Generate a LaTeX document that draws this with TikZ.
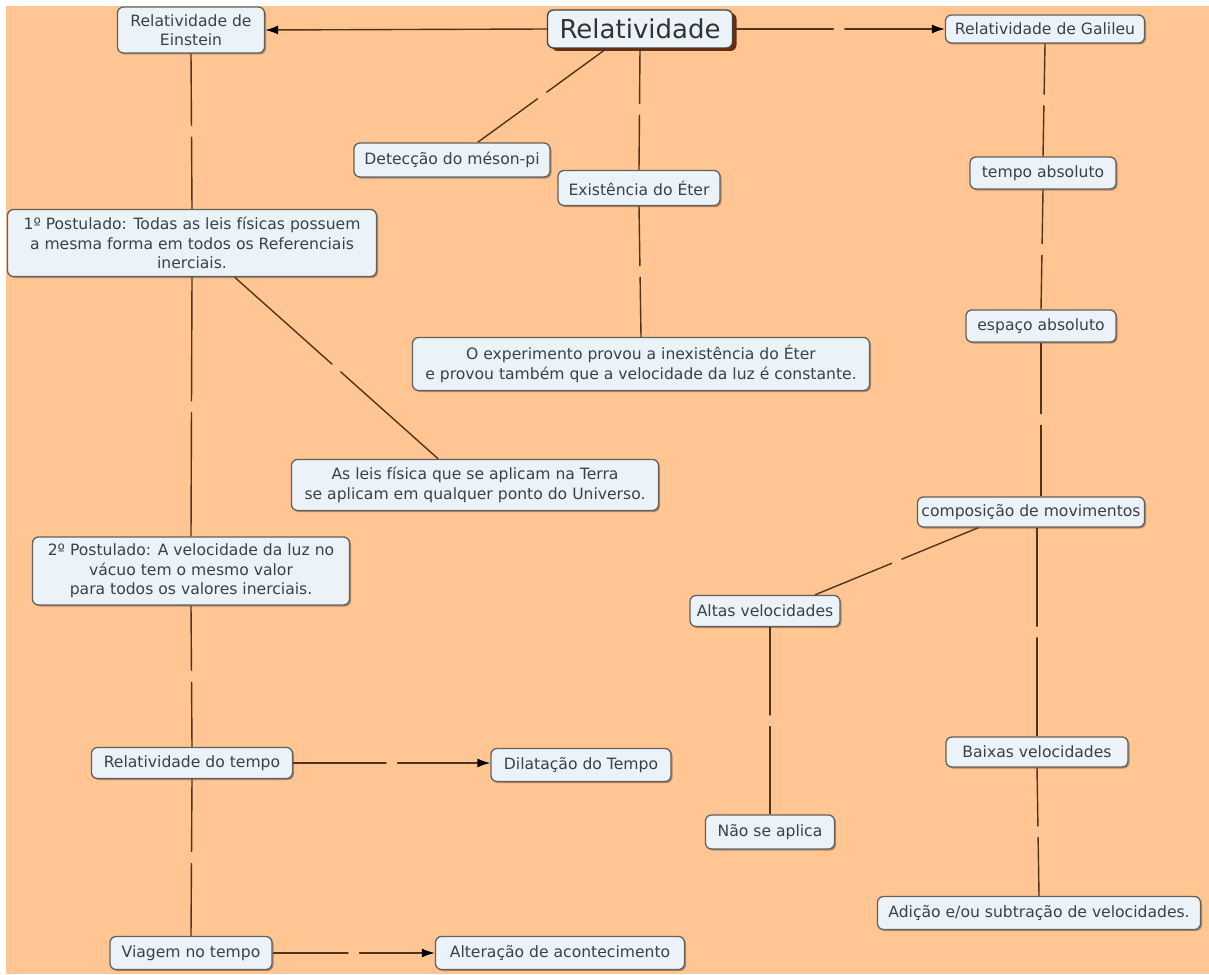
\documentclass[tikz,border=0pt]{standalone}
\usepackage{fontspec}
\setmainfont{DejaVu Sans}
\usetikzlibrary{shadows,calc,arrows.meta}
\definecolor{bg}{RGB}{255,197,146}
\definecolor{boxfill}{RGB}{236,243,248}
\definecolor{boxline}{RGB}{100,96,92}
\definecolor{ink}{RGB}{58,64,74}
\definecolor{wire}{RGB}{80,52,28}
\definecolor{mainshadow}{RGB}{110,45,10}
\begin{document}
\begin{tikzpicture}[x=1pt,y=-1pt,
  concept/.style={draw=boxline, line width=1.3pt, fill=boxfill, rounded corners=6pt,
    text=ink, font=\fontsize{15.6}{19.5}\selectfont, align=center,
    inner xsep=4pt, inner ysep=3pt,
    drop shadow={shadow xshift=1.5pt, shadow yshift=-1.5pt, fill=black, opacity=0.3}},
  topic/.style={draw=black!75, line width=1.3pt, fill=boxfill, rounded corners=6pt,
    text=black!80, font=\fontsize{26}{30}\selectfont, inner xsep=6pt, inner ysep=3pt,
    drop shadow={shadow xshift=4pt, shadow yshift=-3pt, fill=mainshadow, opacity=1}},
  link/.style={draw=wire, line width=1.4pt},
  arrow/.style={link, -{Latex[length=13pt,width=9pt,fill=black,color=black]}},
  gap/.style={fill=bg, circle, inner sep=0pt, minimum size=11pt}
]
% page and background
\fill[white] (0,0) rectangle (1209,974);
\fill[bg] (6,6) rectangle (1209,974);
\useasboundingbox (0,0) rectangle (1209,974);

% concepts
\node[topic, minimum width=185pt, minimum height=38pt] (main) at (640,29) {Relatividade};
\node[concept, minimum width=147pt, minimum height=46pt] (ein) at (191,30) {Relatividade de\\Einstein};
\node[concept, minimum width=199pt, minimum height=28pt] (gal) at (1045,29) {Relatividade de Galileu};
\node[concept, minimum width=196pt, minimum height=34pt] (det) at (452,160) {Detecção do méson-pi};
\node[concept, minimum width=162pt, minimum height=35pt] (ex) at (639,188) {Existência do Éter};
\node[concept, minimum width=146pt, minimum height=32pt] (ta) at (1043,173) {tempo absoluto};
\node[concept, minimum width=369pt, minimum height=67pt] (p1) at (192,243) {1º Postulado: Todas as leis físicas possuem\\a mesma forma em todos os Referenciais\\inerciais.};
\node[concept, minimum width=150pt, minimum height=32pt] (ea) at (1041,326) {espaço absoluto};
\node[concept, minimum width=457pt, minimum height=53pt] (exp) at (641,364) {O experimento provou a inexistência do Éter\\e provou também que a velocidade da luz é constante.};
\node[concept, minimum width=367pt, minimum height=51pt] (leis) at (475,485) {As leis física que se aplicam na Terra\\se aplicam em qualquer ponto do Universo.};
\node[concept, minimum width=227pt, minimum height=30pt] (comp) at (1031,512) {composição de movimentos};
\node[concept, minimum width=317pt, minimum height=68pt] (p2) at (191,571) {2º Postulado: A velocidade da luz no\\vácuo tem o mesmo valor\\para todos os valores inerciais.};
\node[concept, minimum width=150pt, minimum height=31pt] (altas) at (765,611) {Altas velocidades};
\node[concept, minimum width=201pt, minimum height=31pt] (rt) at (192,763) {Relatividade do tempo};
\node[concept, minimum width=180pt, minimum height=33pt] (dil) at (581,765) {Dilatação do Tempo};
\node[concept, minimum width=182pt, minimum height=30pt] (baixas) at (1037,752) {Baixas velocidades};
\node[concept, minimum width=129pt, minimum height=34pt] (nao) at (770,832) {Não se aplica};
\node[concept, minimum width=323pt, minimum height=33pt] (adic) at (1039,913) {Adição e/ou subtração de velocidades.};
\node[concept, minimum width=162pt, minimum height=33pt] (vt) at (191,953) {Viagem no tempo};
\node[concept, minimum width=249pt, minimum height=33pt] (alt) at (560,953) {Alteração de acontecimento};

% links, each broken where its empty linking phrase sits
\draw[arrow] (main.west) -- (ein.east);
\draw[arrow] (main.east) -- node[gap]{} (gal.west);
\draw[link] ($(main.south west)!0.32!(main.south east)$) -- node[gap]{} ($(det.north west)!0.63!(det.north east)$);
\draw[link] (main.south) -- node[gap]{} (ex.north);
\draw[link] (ex.south) -- node[gap]{} (exp.north);
\draw[link] (ein.south) -- node[gap]{} (p1.north);
\draw[link] ($(p1.south west)!0.615!(p1.south east)$) -- node[gap]{} ($(leis.north west)!0.40!(leis.north east)$);
\draw[link] (p1.south) -- node[gap]{} (p2.north);
\draw[link] (p2.south) -- node[gap]{} (rt.north);
\draw[arrow] (rt.east) -- node[gap]{} (rt.east -| dil.west);
\draw[link] (rt.south) -- node[gap]{} (vt.north);
\draw[arrow] (vt.east) -- node[gap]{} (alt.west);
\draw[link] (gal.south) -- node[gap]{} (ta.north);
\draw[link] (ta.south) -- node[gap]{} (ea.north);
\draw[link] (ea.south) -- node[gap]{} (ea.south |- comp.north);
\draw[link] ($(comp.south west)!0.27!(comp.south east)$) -- node[gap]{} ($(altas.north west)!0.83!(altas.north east)$);
\draw[link] (baixas.north |- comp.south) -- node[gap]{} (baixas.north);
\draw[link] (baixas.south) -- node[gap]{} (adic.north);
\draw[link] (nao.north |- altas.south) -- node[gap]{} (nao.north);
\end{tikzpicture}
\end{document}
